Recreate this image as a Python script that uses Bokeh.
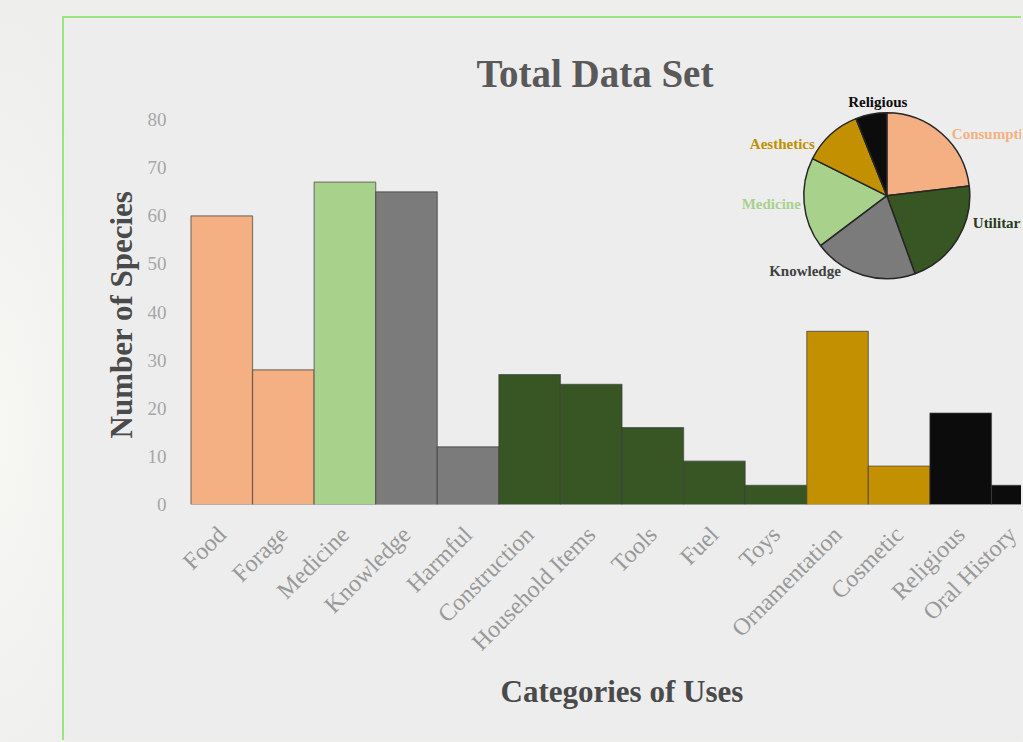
import math
from bokeh.plotting import figure
from bokeh.models import Range1d, FixedTicker, Title, ColumnDataSource
from bokeh.core.properties import value
from bokeh.embed import file_html
from bokeh.resources import INLINE

# ---------------- data ----------------
categories = ["Food", "Forage", "Medicine", "Knowledge", "Harmful", "Construction",
              "Household Items", "Tools", "Fuel", "Toys", "Ornamentation", "Cosmetic",
              "Religious", "Oral History"]
species = [60, 28, 67, 65, 12, 27, 25, 16, 9, 4, 36, 8, 19, 4]
groups = ["Consumption", "Consumption", "Medicine", "Knowledge", "Knowledge",
          "Utilitarian", "Utilitarian", "Utilitarian", "Utilitarian", "Utilitarian",
          "Aesthetics", "Aesthetics", "Religious", "Religious"]
pie_groups = ["Consumption", "Utilitarian", "Knowledge", "Medicine", "Aesthetics", "Religious"]
y_ticks = [0, 10, 20, 30, 40, 50, 60, 70, 80]

# ---------------- styles ----------------
group_colors = {
    "Consumption": "#F4AF82",
    "Medicine": "#A8D28C",
    "Knowledge": "#7B7B7B",
    "Utilitarian": "#375623",
    "Aesthetics": "#C29000",
    "Religious": "#0C0C0C",
}
label_colors = {
    "Consumption": "#F4B183",
    "Medicine": "#A9D18E",
    "Knowledge": "#404040",
    "Utilitarian": "#2B3A1F",
    "Aesthetics": "#BF9000",
    "Religious": "#0C0C0C",
}
# label offsets (screen px) relative to pie centre, and alignment
label_dx = {"Consumption": 65, "Utilitarian": 86, "Knowledge": -46,
            "Medicine": -86, "Aesthetics": -72, "Religious": -9}
label_dy = {"Consumption": -62, "Utilitarian": 27, "Knowledge": 75,
            "Medicine": 8, "Aesthetics": -52, "Religious": -94}
label_align = {"Consumption": "left", "Utilitarian": "left", "Knowledge": "right",
               "Medicine": "right", "Aesthetics": "right", "Religious": "center"}

SERIF = "Liberation Serif"
BG = "#EDEDED"
PIE_X, PIE_Y, PIE_R = 11.3, 64.2, 83
Y_TOP = 85.65

# ---------------- figure ----------------
p = figure(width=959, height=724, output_backend="svg", toolbar_location=None,
           x_range=Range1d(-0.17, 13.52), y_range=Range1d(0, Y_TOP),
           min_border_left=116, min_border_right=0, min_border_top=74,
           min_border_bottom=238)
p.background_fill_color = BG
p.border_fill_color = BG
p.outline_line_color = None
p.xgrid.visible = False
p.ygrid.visible = False
p.styles = {"border-left": "2px solid #9FE281", "border-top": "2px solid #9FE281",
            "margin-left": "62px", "margin-top": "16px"}

p.title = Title(text="Total Data Set", align="left", offset=296, text_font=SERIF,
                text_font_size="39px", text_font_style="bold", text_color="#595959",
                standoff=-5)

# bars
xs = [i + 0.5 for i in range(len(categories))]
bar_src = ColumnDataSource(dict(x=xs, top=species, cat=categories,
                                color=[group_colors[g] for g in groups]))
p.vbar(x="x", top="top", width=1.0, bottom=0, source=bar_src, fill_color="color",
       line_color="#3a3a3a", line_alpha=0.6, line_width=1.2)

# pie (aggregated from bar data)
pie_vals = [sum(v for v, g in zip(species, groups) if g == pg) for pg in pie_groups]
total = sum(pie_vals)
starts, ends = [], []
cum = 0.0
for v in pie_vals:
    a0 = math.pi / 2 - 2 * math.pi * (cum + v) / total
    a1 = math.pi / 2 - 2 * math.pi * cum / total
    starts.append(a0)
    ends.append(a1)
    cum += v
pie_src = ColumnDataSource(dict(
    x=[PIE_X] * len(pie_groups), y=[PIE_Y] * len(pie_groups),
    start=starts, end=ends, group=pie_groups, value=pie_vals,
    color=[group_colors[g] for g in pie_groups],
    tcolor=[label_colors[g] for g in pie_groups],
    dx=[label_dx[g] for g in pie_groups], dy=[label_dy[g] for g in pie_groups],
    align=[label_align[g] for g in pie_groups]))
p.wedge(x="x", y="y", radius=PIE_R, radius_units="screen", start_angle="start",
        end_angle="end", direction="anticlock", fill_color="color",
        line_color="#262626", line_width=1.5, source=pie_src)
p.text(x="x", y="y", text="group", x_offset="dx", y_offset="dy", text_align="align",
       text_baseline="middle", text_color="tcolor", text_font=value(SERIF),
       text_font_size="15px", text_font_style="bold", source=pie_src)

# axes
p.xaxis.ticker = FixedTicker(ticks=xs)
p.xaxis.major_label_overrides = {x: c for x, c in zip(xs, categories)}
p.xaxis.major_label_orientation = math.pi / 4
p.xaxis.major_label_text_font = SERIF
p.xaxis.major_label_text_font_size = "24px"
p.xaxis.major_label_text_color = "#999999"
p.xaxis.major_label_standoff = 20
p.xaxis.axis_line_color = None
p.xaxis.major_tick_line_color = None
p.xaxis.minor_tick_line_color = None

p.yaxis.ticker = FixedTicker(ticks=y_ticks)
p.yaxis.major_label_text_font = SERIF
p.yaxis.major_label_text_font_size = "19px"
p.yaxis.major_label_text_color = "#A6A6A6"
p.yaxis.major_label_standoff = 8
p.yaxis.axis_line_color = None
p.yaxis.major_tick_line_color = None
p.yaxis.minor_tick_line_color = None

p.add_layout(Title(text="Categories of Uses", align="left", offset=320, text_font=SERIF,
                   text_font_size="31px", text_font_style="bold", text_color="#4A4A4A",
                   standoff=8), "below")
p.add_layout(Title(text="Number of Species", align="left", offset=66, text_font=SERIF,
                   text_font_size="31px", text_font_style="bold", text_color="#4A4A4A",
                   standoff=12), "left")

html = file_html(p, INLINE)
html = html.replace(
    "</head>",
    "<style>html,body{margin:0;background:radial-gradient(ellipse 120px 420px at 0% 58%, "
    "#F7F7F4 0%, #EEEEEC 100%);background-color:#EDEDEB;}</style></head>", 1)
open("out.html", "w").write(html)
